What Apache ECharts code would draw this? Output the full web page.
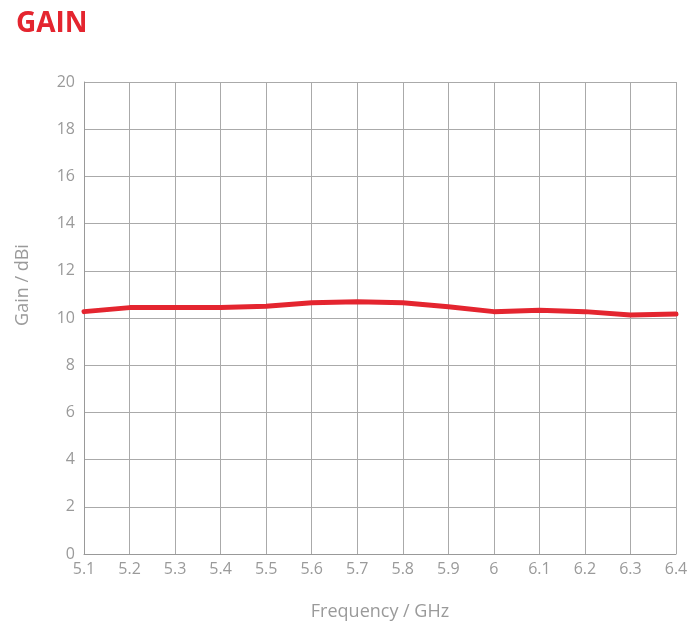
<!DOCTYPE html>
<html><head><meta charset="utf-8">
<script src="https://cdn.jsdelivr.net/npm/echarts@6/dist/echarts.min.js"></script>
<style>html,body{margin:0;padding:0;background:#fff}#c{width:700px;height:638px}</style>
</head><body><div id="c"></div>
<script>
const categories = ['5.1','5.2','5.3','5.4','5.5','5.6','5.7','5.8','5.9','6','6.1','6.2','6.3','6.4'];
const gainValues = [10.27,10.44,10.44,10.45,10.5,10.65,10.69,10.65,10.48,10.27,10.33,10.27,10.13,10.17];
const yTicks = [0,2,4,6,8,10,12,14,16,18,20];

const chart = echarts.init(document.getElementById('c'));
chart.setOption({
  animation:false,
  title:{text:'GAIN',left:11,top:5,textStyle:{color:'#e4252f',fontSize:28,fontWeight:'bold',fontFamily:'Open Sans'}},
  grid:{left:84,right:24,top:82,bottom:84},
  xAxis:{type:'category',data:categories,boundaryGap:false,
    name:'Frequency / GHz',nameLocation:'middle',nameGap:49,
    nameTextStyle:{color:'#9a9a9a',fontSize:18,fontFamily:'Open Sans'},
    axisLine:{lineStyle:{color:'#999',width:1}},axisTick:{show:false},
    axisLabel:{color:'#9a9a9a',fontSize:16,margin:7,fontFamily:'Open Sans'},
    splitLine:{show:true,lineStyle:{color:'#aaa',width:1}}},
  yAxis:{type:'value',min:yTicks[0],max:yTicks[yTicks.length-1],interval:2,
    name:'Gain / dBi',nameLocation:'middle',nameGap:52,
    nameTextStyle:{color:'#9a9a9a',fontSize:18,fontFamily:'Open Sans',padding:[0,0,0,66]},
    axisLine:{show:true,lineStyle:{color:'#999',width:1}},axisTick:{show:false},
    axisLabel:{color:'#9a9a9a',fontSize:16,margin:9,fontFamily:'Open Sans'},
    splitLine:{show:true,lineStyle:{color:'#aaa',width:1}}},
  series:[{type:'line',data:gainValues,symbol:'none',smooth:false,
    lineStyle:{color:'#e4252f',width:5,join:'round',cap:'round'}}]
});
</script></body></html>
